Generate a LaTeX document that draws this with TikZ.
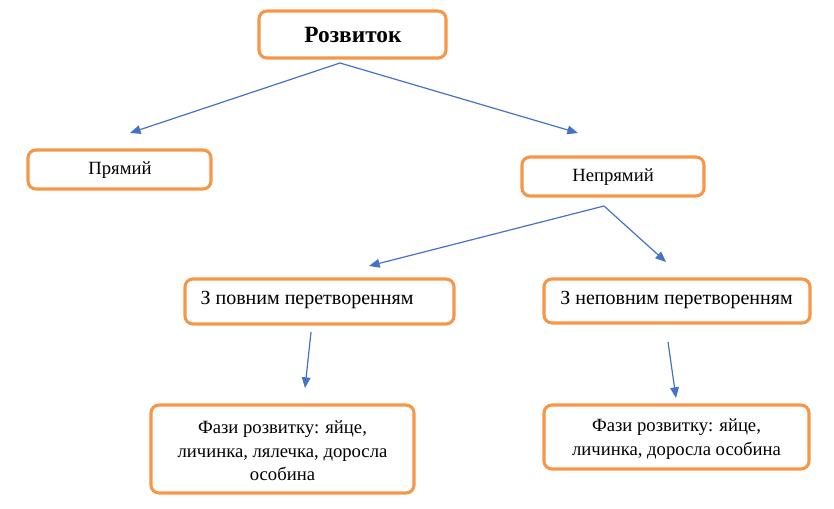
\documentclass[tikz,border=0pt]{standalone}
\usepackage{fontspec}
\setmainfont{Liberation Serif}
\usetikzlibrary{arrows.meta}
\definecolor{boxorange}{RGB}{247,150,70}
\definecolor{linkblue}{RGB}{68,114,196}
\begin{document}
\begin{tikzpicture}[x=0.75pt,y=-0.75pt,
  box/.style={draw=boxorange,line width=2.3pt,rounded corners=6pt,fill=white},
  link/.style={draw=linkblue,line width=0.9pt,-{Triangle[length=8pt,width=6.5pt]}},
  lbl/.style={font=\fontsize{14pt}{17pt}\selectfont,align=center},
  kind/.style={font=\fontsize{15pt}{18pt}\selectfont,align=center},
  stages/.style={font=\fontsize{14pt}{17.5pt}\selectfont,align=center}]
\useasboundingbox (0,0) rectangle (834,509);

% boxes
\draw[box] (259,11) rectangle (446,58);
\node[font=\fontsize{17.5pt}{21pt}\selectfont\bfseries] (root) at (353,35) {Розвиток};

\draw[box] (28,150) rectangle (211,189);
\node[lbl] (direct) at (120,170) {Прямий};

\draw[box] (522,157) rectangle (704,196);
\node[lbl] (indirect) at (613,177) {Непрямий};

\draw[box] (185,279) rectangle (454,324);
\node[kind] (full) at (307,300) {З повним перетворенням};

\draw[box] (544,279) rectangle (810,323);
\node[kind] (partial) at (676.5,300) {З неповним перетворенням};

\draw[box] (151,405) rectangle (414,493);
\node[stages] (stagesA) at (282.5,451) {Фази розвитку: яйце,\\личинка, лялечка, доросла\\особина};

\draw[box] (544,405) rectangle (809,469);
\node[stages] (stagesB) at (676.5,439) {Фази розвитку: яйце,\\личинка, доросла особина};

% connector end points
\coordinate (r0) at (340,63);
\coordinate (r1) at (130,133);
\coordinate (r2) at (578,133);
\coordinate (i0) at (604,206);
\coordinate (i1) at (369,266);
\coordinate (i2) at (666,262);
\coordinate (f0) at (311,332);
\coordinate (f1) at (305,388);
\coordinate (p0) at (668,342);
\coordinate (p1) at (676,398);

% connectors
\draw[link] (r0) -- (r1);
\draw[link] (r0) -- (r2);
\draw[link] (i0) -- (i1);
\draw[link] (i0) -- (i2);
\draw[link] (f0) -- (f1);
\draw[link] (p0) -- (p1);
\end{tikzpicture}
\end{document}
